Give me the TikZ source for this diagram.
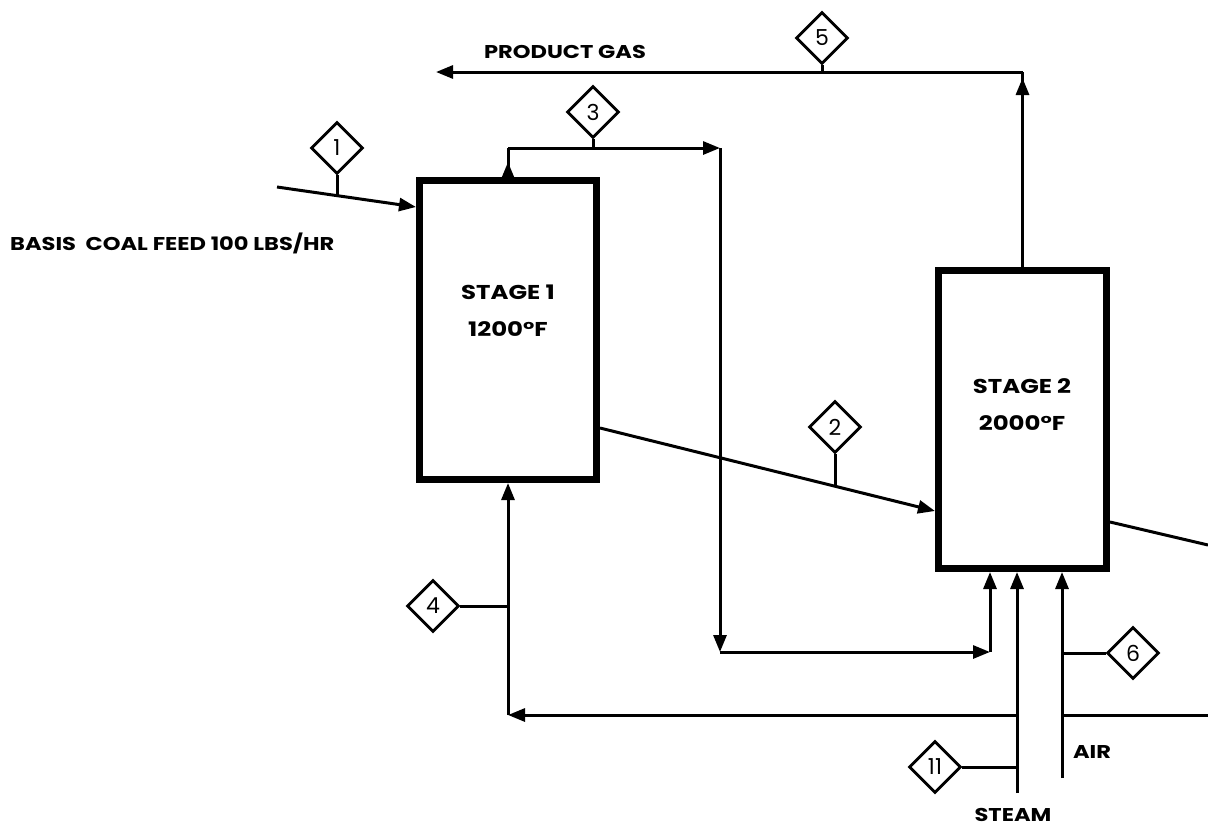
\documentclass[tikz,border=0pt]{standalone}
\usepackage{fontspec}
\setmainfont{Poppins}
\newfontfamily\widefont[FakeStretch=1.22]{Poppins}
\usetikzlibrary{arrows.meta,shapes.geometric,calc}
\begin{document}
\begin{tikzpicture}[x=1pt,y=-1pt,
  flow/.style={line width=3pt},
  arr/.style={-{Triangle[length=17pt,width=13pt]}},
  stagebox/.style={draw,line width=7pt,inner sep=0pt},
  stagetext/.style={align=center,font=\widefont\bfseries\fontsize{20}{37}\selectfont},
  tag/.style={draw,diamond,line width=2.8pt,minimum width=52pt,minimum height=52pt,inner sep=0pt,fill=white,font=\fontsize{22}{22}\selectfont},
  lbl/.style={inner sep=0pt,font=\widefont\bfseries\fontsize{18.5}{18.5}\selectfont}]
\useasboundingbox[fill=white] (0,0) rectangle (1208,828);

% stages
\node[stagebox,minimum width=177pt,minimum height=299pt] (s1) at (508,330) {};
\node[stagebox,minimum width=168pt,minimum height=298pt] (s2) at (1022.5,419.5) {};
\node[stagetext] (s1t) at (508,311) {STAGE 1\\1200°F};
\node[stagetext] (s2t) at (1022,405) {STAGE 2\\2000°F};

% tags
\node[tag] (t1) at (337,148) {1};
\node[tag] (t2) at (835,427) {2};
\node[tag] (t3) at (593,112) {3};
\node[tag] (t4) at (433,606) {4};
\node[tag] (t5) at (822,38) {5};
\node[tag] (t6) at (1133,653) {6};
\node[tag] (t11) at (935,767) {11};

% labels
\node[lbl,anchor=west] (basis) at (10,243) {BASIS\ \ COAL FEED 100 LBS/HR};
\node[lbl] (pg) at (565,52) {PRODUCT GAS};
\node[lbl] (air) at (1092,752) {AIR};
\node[lbl] (steam) at (1013,815) {STEAM};

% coordinates
\coordinate (feed) at (277,187);
\coordinate (f1) at (0,207);
\coordinate (j1) at (337,195.6);
\coordinate (c3a) at (508,148);
\coordinate (c3b) at (720,148);
\coordinate (c3c) at (720,652);
\coordinate (c3d) at (990,652);
\coordinate (c5a) at (1022,72);
\coordinate (c5b) at (436,72);
\coordinate (e2) at (0,511);
\coordinate (o1) at (0,428);
\coordinate (j2) at (835,486.2);
\coordinate (x2) at (1208,545);
\coordinate (o2) at (0,522);
\coordinate (r0) at (1208,715);
\coordinate (r1) at (1062,715);
\coordinate (r2) at (1017,715);
\coordinate (r3) at (508,715);
\coordinate (steam0) at (1017,793);
\coordinate (air0) at (1062,778);

% stream 1
\draw[flow,arr] (feed) -- (s1.west |- f1);
\draw[flow] (t1.south) -- (j1);
% stream 3
\draw[flow] (s1.north) -- (c3a);
\draw[flow,arr] (s1.north) -- ++(0,-15);
\draw[flow,arr] (c3a) -- (c3b);
\draw[flow,arr] (c3b) -- (c3c);
\draw[flow,arr] (c3c) -- (c3d);
\draw[flow,arr] (c3d) -- (s2.south -| c3d);
\draw[flow] (t3.south) -- (t3.south |- c3a);
% stream 5
\draw[flow,arr] (s2.north) -- ($(s2.north |- c5a)+(0,6)$);
\draw[flow] (s2.north) -- (s2.north |- c5a);
\draw[flow,arr] (s2.north |- c5a) -- (c5b);
\draw[flow] (t5.south) -- (t5.south |- c5a);
% stream 2
\draw[flow,arr] (s1.east |- o1) -- (s2.west |- e2);
\draw[flow] (t2.south) -- (j2);
% exit from stage 2
\draw[flow] (s2.east |- o2) -- (x2);
% recycle / stream 4
\draw[flow] (r0) -- (r1);
\draw[flow,arr] (r2) -- (r3);
\draw[flow,arr] (r3) -- (s1.south);
\draw[flow] (t4.east) -- (t4.east -| r3);
% steam and air
\draw[flow,arr] (steam0) -- (s2.south -| steam0);
\draw[flow,arr] (air0) -- (s2.south -| air0);
\draw[flow] (t6.west) -- (t6.west -| air0);
\draw[flow] (t11.east) -- (t11.east -| steam0);
\end{tikzpicture}
\end{document}
